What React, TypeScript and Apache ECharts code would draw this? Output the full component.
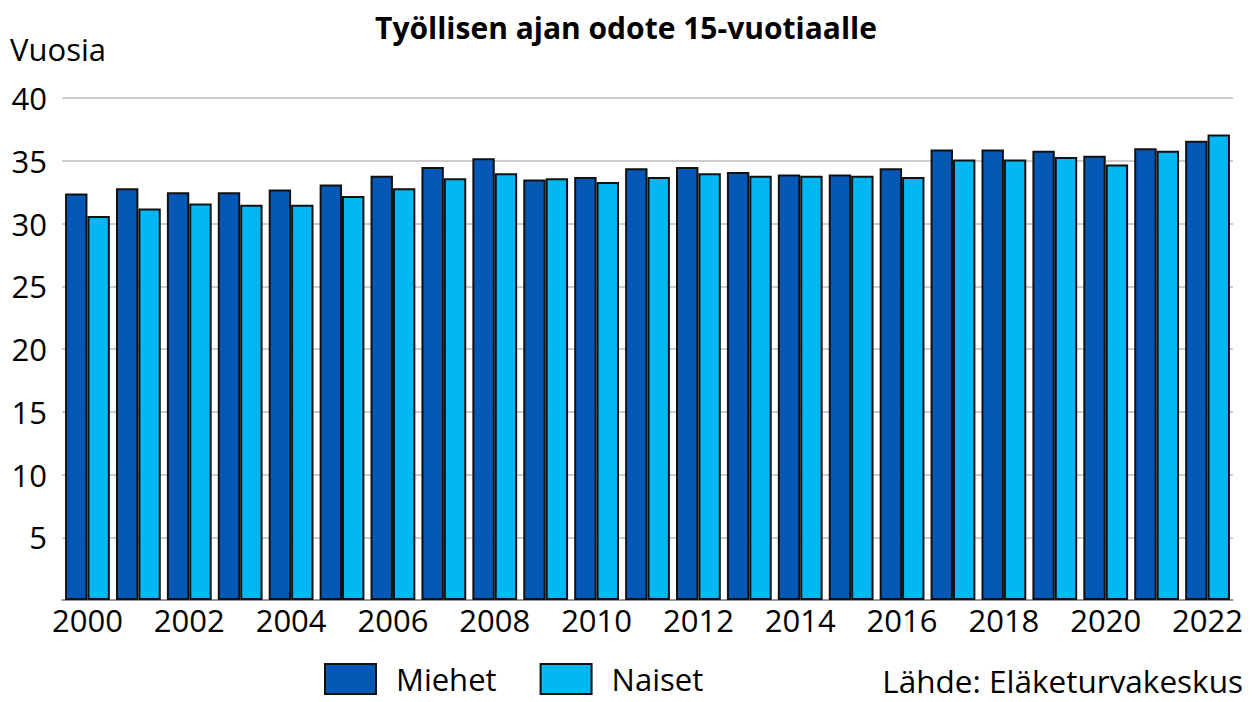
import React, { useEffect, useRef } from "react";
import * as echarts from "echarts";

const years = ["2000","2001","2002","2003","2004","2005","2006","2007","2008","2009","2010","2011","2012","2013","2014","2015","2016","2017","2018","2019","2020","2021","2022"];
const miehet = [32.4,32.8,32.5,32.5,32.7,33.1,33.8,34.5,35.2,33.5,33.7,34.4,34.5,34.1,33.9,33.9,34.4,35.9,35.9,35.8,35.4,36.0,36.6];
const naiset = [30.6,31.2,31.6,31.5,31.5,32.2,32.8,33.6,34.0,33.6,33.3,33.7,34.0,33.8,33.8,33.8,33.7,35.1,35.1,35.3,34.7,35.8,37.1];
const seriesNames = ["Miehet", "Naiset"];
const title = "Työllisen ajan odote 15-vuotiaalle";
const unitLabel = "Vuosia";
const source = "Lähde: Eläketurvakeskus";

const FONT = "'Open Sans', sans-serif";

export default function App() {
  const ref = useRef<HTMLDivElement>(null);
  useEffect(() => {
    if (!ref.current) return;
    const chart = echarts.init(ref.current, null, { renderer: "svg" });
    chart.setOption({
      animation: false,
      backgroundColor: "#ffffff",
      textStyle: { fontFamily: FONT },
      title: {
        text: title,
        left: "center",
        top: 7,
        textStyle: { fontFamily: FONT, fontWeight: "bold", fontSize: 30, color: "#000" },
      },
      graphic: [
        { type: "text", left: 10, top: 33, style: { text: unitLabel, font: `31px ${FONT}`, fill: "#000" } },
        { type: "text", right: 9, top: 664, style: { text: source, font: `31.5px ${FONT}`, lineHeight: 30, fill: "#000" } },
      ],
      legend: {
        data: seriesNames,
        left: 319,
        top: 658,
        itemWidth: 51,
        itemHeight: 30,
        itemGap: 43,
        icon: "rect",
        textStyle: { fontFamily: FONT, fontSize: 31, lineHeight: 30, color: "#000", padding: [0, 0, 0, 15] },
      },
      grid: { left: 62, right: 19, top: 98, bottom: 102, containLabel: false },
      xAxis: {
        type: "category",
        data: years,
        axisTick: { show: false },
        axisLine: { show: true, lineStyle: { color: "#888", width: 1.5 } },
        axisLabel: { interval: 1, fontFamily: FONT, fontSize: 31, color: "#000", margin: 4 },
      },
      yAxis: {
        type: "value",
        min: 0,
        max: 40,
        interval: 5,
        axisLine: { show: false },
        axisTick: { show: false },
        splitLine: { lineStyle: { color: "#bdbdbd", width: 1.5 } },
        axisLabel: {
          fontFamily: FONT,
          fontSize: 31,
          color: "#000",
          margin: 15,
          formatter: (v: number) => (v === 0 ? "" : String(v)),
        },
      },
      series: [
        {
          name: seriesNames[0],
          type: "bar",
          data: miehet,
          barGap: "0%",
          barCategoryGap: "12%",
          itemStyle: { color: "#0558B6", borderColor: "#111", borderWidth: 2 },
        },
        {
          name: seriesNames[1],
          type: "bar",
          data: naiset,
          barGap: "0%",
          barCategoryGap: "12%",
          itemStyle: { color: "#00B7F4", borderColor: "#111", borderWidth: 2 },
        },
      ],
    });
    return () => chart.dispose();
  }, []);
  return <div ref={ref} style={{ width: 1252, height: 702, position: "absolute", left: 0, top: 0 }} />;
}
